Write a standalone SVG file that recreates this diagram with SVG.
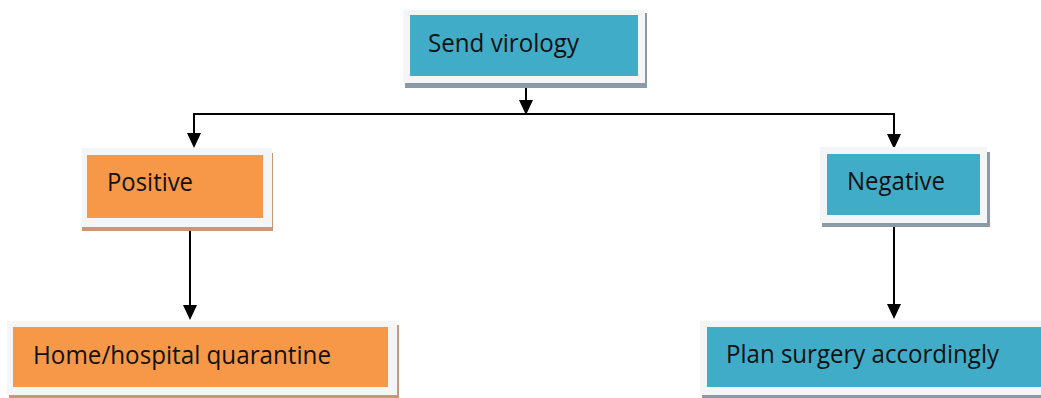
<svg xmlns="http://www.w3.org/2000/svg" width="1041" height="398" viewBox="0 0 1041 398">
<defs>
<style>
.outer{fill:#f3f5f6}
.teal{fill:#41acc7}
.orange{fill:#f79848}
.shT{fill:#8a9aa7}
.shO{fill:#c9987c}
.lbl{font-family:"Open Sans","Noto Sans","Liberation Sans",sans-serif;font-size:26px;fill:#111}
.conn{stroke:#000;stroke-width:2;fill:none}
</style>
</defs>
<rect width="1041" height="398" fill="#fff"/>
<g id="connectors">
<line class="conn" x1="526" y1="83" x2="526" y2="100"/>
<path d="M519,100 L533,100 L526,115 Z" fill="#000"/>
<path class="conn" d="M194,134 V114 H894 V135"/>
<path d="M187,133 L201,133 L194,148 Z" fill="#000"/>
<path d="M887,134 L901,134 L894,149 Z" fill="#000"/>
<line class="conn" x1="190" y1="231" x2="190" y2="306"/>
<path d="M183,305 L197,305 L190,320 Z" fill="#000"/>
<line class="conn" x1="894" y1="227" x2="894" y2="305"/>
<path d="M887,304 L901,304 L894,319 Z" fill="#000"/>
</g>
<g id="send-virology">
<rect class="shT" x="405" y="13" width="242" height="75"/>
<rect class="outer" x="403" y="10" width="242" height="73"/>
<rect class="teal" x="410" y="15" width="228" height="61"/>
<text class="lbl" x="428" y="52" textLength="151" lengthAdjust="spacingAndGlyphs">Send virology</text>
</g>
<g id="positive">
<rect class="shO" x="82" y="153" width="191" height="78"/>
<rect class="outer" x="82" y="148" width="190" height="79"/>
<rect class="orange" x="87" y="155" width="176" height="63"/>
<text class="lbl" x="107" y="191" textLength="86" lengthAdjust="spacingAndGlyphs">Positive</text>
</g>
<g id="negative">
<rect class="shT" x="822" y="152" width="168" height="75"/>
<rect class="outer" x="820" y="147" width="167" height="76"/>
<rect class="teal" x="827" y="154" width="153" height="61"/>
<text class="lbl" x="847" y="190" textLength="98" lengthAdjust="spacingAndGlyphs">Negative</text>
</g>
<g id="home-quarantine">
<rect class="shO" x="9" y="325" width="390" height="74"/>
<rect class="outer" x="7" y="321" width="390" height="74"/>
<rect class="orange" x="13" y="327" width="375" height="60"/>
<text class="lbl" x="33" y="364" textLength="298" lengthAdjust="spacingAndGlyphs">Home/hospital quarantine</text>
</g>
<g id="plan-surgery">
<rect class="shT" x="702" y="325" width="340" height="74"/>
<rect class="outer" x="700" y="321" width="342" height="74"/>
<rect class="teal" x="707" y="327" width="334" height="60"/>
<text class="lbl" x="726" y="363" textLength="273" lengthAdjust="spacingAndGlyphs">Plan surgery accordingly</text>
</g>
</svg>
